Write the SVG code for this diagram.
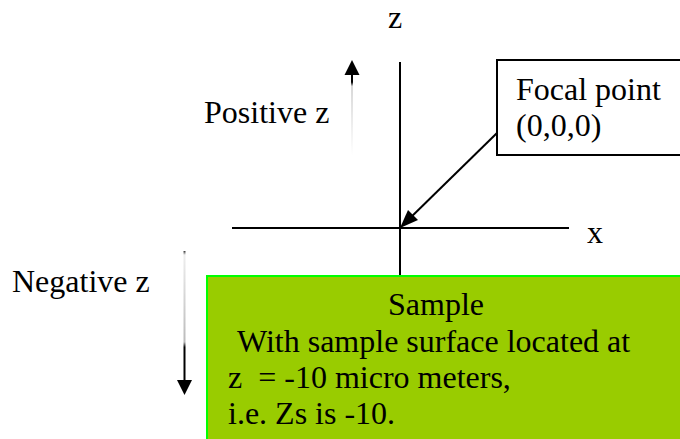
<svg xmlns="http://www.w3.org/2000/svg" width="680" height="439" viewBox="0 0 680 439">
<style>
.t{font-family:'Liberation Serif','DejaVu Serif',serif;font-size:32px;fill:#000}
.ax{stroke:#000;stroke-width:2;fill:none}
</style>
<defs>
<linearGradient id="gup" x1="0" y1="1" x2="0" y2="0">
<stop offset="0" stop-color="#fff"/>
<stop offset="0.85" stop-color="#d8d8d8"/>
<stop offset="0.9" stop-color="#000"/>
<stop offset="1" stop-color="#000"/>
</linearGradient>
<linearGradient id="gdn" x1="0" y1="0" x2="0" y2="1">
<stop offset="0" stop-color="#333"/>
<stop offset="0.03" stop-color="#eee"/>
<stop offset="0.7" stop-color="#bbb"/>
<stop offset="0.74" stop-color="#000"/>
<stop offset="1" stop-color="#000"/>
</linearGradient>
</defs>

<g id="sample">
<rect x="207" y="276" width="480" height="170" fill="#99cc00" stroke="#00ff00" stroke-width="2"/>
<text class="t" font-family="Liberation Serif, serif" x="436" y="315" text-anchor="middle">Sample</text>
<text class="t" font-family="Liberation Serif, serif" x="237" y="352">With sample surface located at</text>
<text class="t" font-family="Liberation Serif, serif" x="228" y="388" xml:space="preserve">z  = -10 micro meters,</text>
<text class="t" font-family="Liberation Serif, serif" x="228" y="424">i.e. Zs is -10.</text>
</g>

<g id="focal">
<rect x="497" y="60" width="190" height="95" fill="#fff" stroke="#000" stroke-width="2"/>
<text class="t" font-family="Liberation Serif, serif" x="516" y="100">Focal point</text>
<text class="t" font-family="Liberation Serif, serif" x="516" y="136">(0,0,0)</text>
</g>

<g id="labels">
<text class="t" font-family="Liberation Serif, serif" x="388" y="28">z</text>
<text class="t" font-family="Liberation Serif, serif" x="587" y="243">x</text>
<text class="t" font-family="Liberation Serif, serif" x="204" y="123">Positive z</text>
<text class="t" font-family="Liberation Serif, serif" x="12" y="292">Negative z</text>
</g>

<g id="connectors">
<line class="ax" x1="400" y1="62" x2="400" y2="275"/>
<line class="ax" x1="232" y1="228" x2="569" y2="228"/>
<line x1="497" y1="133" x2="405" y2="223" stroke="#000" stroke-width="2"/>
<path d="M400,228 L408,210 L418,220 z" fill="#000"/>
<rect x="351" y="74" width="2" height="81" fill="url(#gup)"/>
<path d="M352,60 L359.5,75 L344.5,75 z" fill="#000"/>
<rect x="183.5" y="251" width="2" height="130" fill="url(#gdn)"/>
<path d="M184.5,395 L192,380 L177,380 z" fill="#000"/>
</g>
</svg>
